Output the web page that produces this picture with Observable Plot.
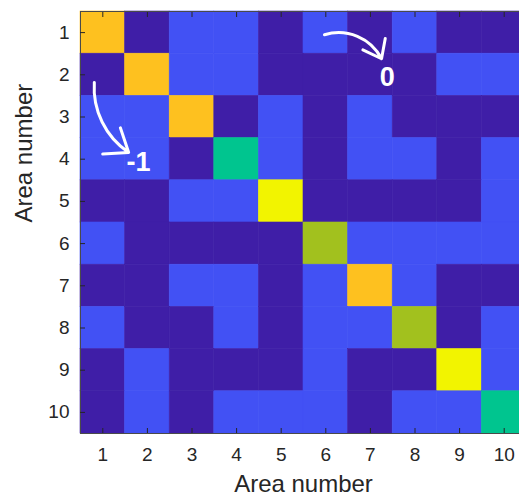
<!DOCTYPE html>
<html>
<head>
<meta charset="utf-8">
<script src="https://cdn.jsdelivr.net/npm/d3@7"></script>
<script src="https://cdn.jsdelivr.net/npm/@observablehq/plot@0.6"></script>
<style>
  html, body { margin: 0; padding: 0; background: #fff; overflow: hidden; }
</style>
</head>
<body>
<div id="chart"></div>
<script>
// Area numbers (rows and columns)
const areas = [1, 2, 3, 4, 5, 6, 7, 8, 9, 10];

// Matrix values, one array per row (area 1..10)
const row1  = [ 3,  0, -1, -1,  0, -1,  0, -1,  0,  0];
const row2  = [ 0,  3, -1, -1,  0,  0,  0,  0, -1, -1];
const row3  = [-1, -1,  3,  0, -1,  0, -1,  0,  0,  0];
const row4  = [-1, -1,  0,  1, -1,  0, -1, -1,  0, -1];
const row5  = [ 0,  0, -1, -1,  4,  0,  0,  0,  0, -1];
const row6  = [-1,  0,  0,  0,  0,  2, -1, -1, -1, -1];
const row7  = [ 0,  0, -1, -1,  0, -1,  3, -1,  0,  0];
const row8  = [-1,  0,  0, -1,  0, -1, -1,  2,  0, -1];
const row9  = [ 0, -1,  0,  0,  0, -1,  0,  0,  4, -1];
const row10 = [ 0, -1,  0, -1, -1, -1,  0, -1, -1,  1];
const rows = [row1, row2, row3, row4, row5, row6, row7, row8, row9, row10];

// Colour levels
const levels = [0, -1, 1, 2, 3, 4];
const levelColors = ["#3F1EA7", "#4251F4", "#00C58F", "#A2C11E", "#FEC11F", "#F2F400"];

// Annotations (arrow start/end and label position, in area units)
const arrowZero = [{x1: 5.97, y1: 1.05, x2: 7.25, y2: 1.62}];
const arrowMinusOne = [{x1: 0.81, y1: 2.18, x2: 1.58, y2: 3.84}];
const annotLabels = [
  {x: 7.38, y: 2.06, text: "0"},
  {x: 1.80, y: 4.08, text: "-1"}
];

const cells = [];
rows.forEach((r, i) => r.forEach((v, j) => cells.push({row: areas[i], col: areas[j], v})));

const font = "'Liberation Sans', Arial, Helvetica, sans-serif";
const ink = "#262626";
const arrowStyle = {x1: "x1", y1: "y1", x2: "x2", y2: "y2", stroke: "white", strokeWidth: 3, headLength: 14, headAngle: 75};

const chart = Plot.plot({
  width: 519,
  height: 502,
  marginTop: 11,
  marginLeft: 80,
  marginRight: -7,
  marginBottom: 69,
  style: {fontFamily: font, background: "#fff", color: ink},
  x: {domain: [0.5, 10.5], label: null},
  y: {domain: [0.5, 10.5], reverse: true, label: null},
  color: {type: "ordinal", domain: levels, range: levelColors},
  marks: [
    Plot.rect(cells, {
      x1: d => d.col - 0.5, x2: d => d.col + 0.5,
      y1: d => d.row - 0.5, y2: d => d.row + 0.5,
      fill: "v", stroke: "v", strokeWidth: 0.6
    }),
    Plot.frame({stroke: "#4a4a4a", strokeWidth: 1}),
    Plot.axisX(areas, {anchor: "bottom", tickSize: -5, tickPadding: 19, fontSize: 19, label: null, stroke: ink, fill: ink}),
    Plot.axisX(areas, {anchor: "top", tickSize: -5, tickFormat: () => "", label: null, stroke: ink}),
    Plot.axisY(areas, {anchor: "left", tickSize: -5, tickPadding: 16, fontSize: 19, label: null, stroke: ink, fill: ink}),
    Plot.text(["Area number"], {frameAnchor: "bottom", dy: 58, fontSize: 24, fill: ink}),
    Plot.text(["Area number"], {frameAnchor: "left", dx: -56, rotate: -90, fontSize: 24, fill: ink}),
    Plot.arrow(arrowZero, {...arrowStyle, bend: 40}),
    Plot.arrow(arrowMinusOne, {...arrowStyle, bend: -30}),
    Plot.text(annotLabels, {x: "x", y: "y", text: "text", fill: "white", fontSize: 27, fontWeight: "bold"})
  ]
});

document.getElementById("chart").appendChild(chart);
</script>
</body>
</html>
